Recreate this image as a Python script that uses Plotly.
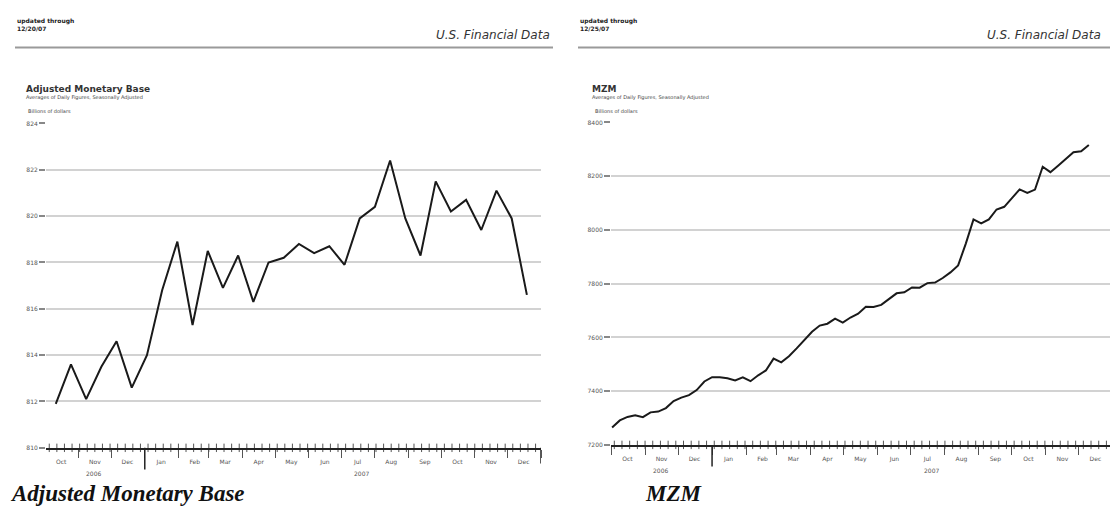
import pandas as pd
import plotly.graph_objects as go

# ---------------- data ----------------
# Adjusted Monetary Base, biweekly (billions of dollars)
amb_start = "2006-10-11"
amb_values = [811.9, 813.6, 812.1, 813.5, 814.6, 812.6, 814.0, 816.8, 818.9, 815.3,
              818.5, 816.9, 818.3, 816.3, 818.0, 818.2, 818.8, 818.4, 818.7, 817.9,
              819.9, 820.4, 822.4, 819.9, 818.3, 821.5, 820.2, 820.7, 819.4, 821.1,
              819.9, 816.6]
amb_yticks = [810, 812, 814, 816, 818, 820, 822, 824]

# MZM, weekly (billions of dollars)
mzm_start = "2006-10-02"
mzm_values = [7265, 7291, 7304, 7310, 7303, 7321, 7324, 7337, 7363, 7376,
              7385, 7404, 7436, 7452, 7452, 7448, 7440, 7451, 7437, 7459,
              7477, 7521, 7507, 7530, 7559, 7590, 7621, 7644, 7651, 7670,
              7655, 7674, 7688, 7714, 7713, 7721, 7742, 7764, 7768, 7786,
              7785, 7802, 7804, 7821, 7842, 7868, 7949, 8039, 8024, 8039,
              8076, 8086, 8118, 8151, 8138, 8150, 8235, 8215, 8239, 8264,
              8289, 8293, 8316]
mzm_yticks = [7200, 7400, 7600, 7800, 8000, 8200, 8400]

month_labels = ["Oct", "Nov", "Dec", "Jan", "Feb", "Mar", "Apr", "May", "Jun",
                "Jul", "Aug", "Sep", "Oct", "Nov", "Dec"]
month_starts = pd.date_range("2006-10-01", periods=len(month_labels), freq="MS")
year_labels = ["2006", "2007"]

amb_dates = pd.date_range(amb_start, periods=len(amb_values), freq="14D")
mzm_dates = pd.date_range(mzm_start, periods=len(mzm_values), freq="7D")

# ---------------- layout helpers ----------------
# the page body has an 8px margin, so the figure is offset by 8px
OX, OY = 8, 8
W, H = 1110, 502
def fx(p):
    return (p - OX) / W
def fy(p):
    return 1 - (p - OY) / H

FONT = "DejaVu Sans"
mid_months = [d + pd.Timedelta(days=15) for d in month_starts]

fig = go.Figure()

panels = [
    dict(x="x", y="y", dates=amb_dates, vals=amb_values, yt=amb_yticks,
         xr=["2006-10-02", "2008-01-01"], dom=(46, 541), top=121, bot=450),
    dict(x="x2", y="y2", dates=mzm_dates, vals=mzm_values, yt=mzm_yticks,
         xr=["2006-10-01", "2008-01-01"], dom=(611, 1113), top=120, bot=447),
]

for i, p in enumerate(panels):
    fig.add_trace(go.Scatter(x=p["dates"], y=p["vals"], mode="lines",
                             line=dict(color="#1a1a1a", width=2),
                             xaxis=p["x"], yaxis=p["y"], showlegend=False,
                             hoverinfo="skip"))
    # weekly ticks on the time axis
    weeks = pd.date_range(pd.Timestamp(p["xr"][0]) + pd.Timedelta(days=3),
                          pd.Timestamp(p["xr"][1]) - pd.Timedelta(days=2), freq="7D")
    fig.add_trace(go.Scatter(x=weeks, y=[p["yt"][0]] * len(weeks), mode="markers",
                             marker=dict(symbol="line-ns", size=6,
                                         line=dict(color="#555", width=1)),
                             cliponaxis=False, xaxis=p["x"], yaxis=p["y"],
                             showlegend=False, hoverinfo="skip"))
    suffix = "" if i == 0 else "2"
    fig.update_layout(**{
        "xaxis" + suffix: dict(
            domain=[fx(p["dom"][0]), fx(p["dom"][1])], range=p["xr"], type="date",
            anchor=p["y"], showgrid=False, zeroline=False,
            showline=True, linecolor="#222", linewidth=1.5,
            tickvals=mid_months, ticktext=month_labels, ticks="", ticklen=0,
            ticklabelstandoff=7,
            tickfont=dict(family=FONT, size=6, color="#555"),
            minor=dict(ticks="outside", ticklen=8, tickwidth=1, tickcolor="#555",
                       dtick="M1", tick0="2006-10-01", showgrid=False),
        ),
        "yaxis" + suffix: dict(
            domain=[fy(p["bot"]), fy(p["top"])],
            range=[p["yt"][0], p["yt"][-1]], anchor=p["x"],
            tickvals=p["yt"], ticks="outside", ticklen=6, tickcolor="#888",
            tickwidth=1.5, showgrid=True, gridcolor="#d2d2d2", gridwidth=1.5,
            zeroline=False, showline=False,
            tickfont=dict(family=FONT, size=6, color="#555"),
        ),
    })
    # year divider and end bar
    for xv, y1 in [("2007-01-01", p["bot"] + 22), (p["xr"][1], p["bot"] + 16)]:
        fig.add_shape(type="line", xref=p["x"], yref="paper", x0=xv, x1=xv,
                      y0=fy(p["bot"]), y1=fy(y1),
                      line=dict(color="#222", width=1.5))

# year labels (positioned by date through the axes)
for xa, yb in [("x", 450), ("x2", 447)]:
    for lbl, d in zip(year_labels, ["2006-11-15", "2007-07-20"]):
        fig.add_annotation(x=d, xref=xa, y=fy(yb + 26), yref="paper",
                           text=lbl, showarrow=False, yanchor="middle",
                           font=dict(family=FONT, size=6, color="#555"))

def txt(x, y, t, size, color="#222", xanchor="left", bold=False, italic=False,
        family=FONT):
    fig.add_annotation(x=fx(x), y=fy(y), xref="paper", yref="paper", text=t,
                       showarrow=False, xanchor=xanchor, yanchor="middle",
                       align="left",
                       font=dict(family=family, size=size, color=color,
                                 weight="bold" if bold else "normal",
                                 style="italic" if italic else "normal"))

# headers
for x0, date in [(15, "12/20/07"), (578, "12/25/07")]:
    txt(x0, 17, "updated through", 6, "#222", bold=True)
    txt(x0, 25, date, 6, "#222", bold=True)
txt(552, 31, "U.S. Financial Data", 12, "#333", xanchor="right", italic=True)
txt(985, 31, "U.S. Financial Data", 12, "#333", italic=True)

# header rules
for a, b in [(15, 553), (578, 1118)]:
    fig.add_shape(type="line", xref="paper", yref="paper", x0=fx(a), x1=fx(b),
                  y0=fy(44), y1=fy(44), line=dict(color="#9a9a9a", width=2))

# chart titles
txt(24, 86, "Adjusted Monetary Base", 9, "#333", bold=True)
txt(24, 95, "Averages of Daily Figures, Seasonally Adjusted", 5, "#444")
txt(26, 108, "Billions of dollars", 5, "#444")
txt(590, 86, "MZM", 9, "#333", bold=True)
txt(590, 95, "Averages of Daily Figures, Seasonally Adjusted", 5, "#444")
txt(593, 108, "Billions of dollars", 5, "#444")

# captions
txt(8, 496, "Adjusted Monetary Base", 23, "#111", bold=True, italic=True,
    family="Liberation Serif")
txt(643, 496, "MZM", 23, "#111", bold=True, italic=True, family="Liberation Serif")

fig.update_layout(width=W, height=H, margin=dict(l=0, r=0, t=0, b=0),
                  paper_bgcolor="white", plot_bgcolor="white", showlegend=False)

fig.write_html("out.html")
